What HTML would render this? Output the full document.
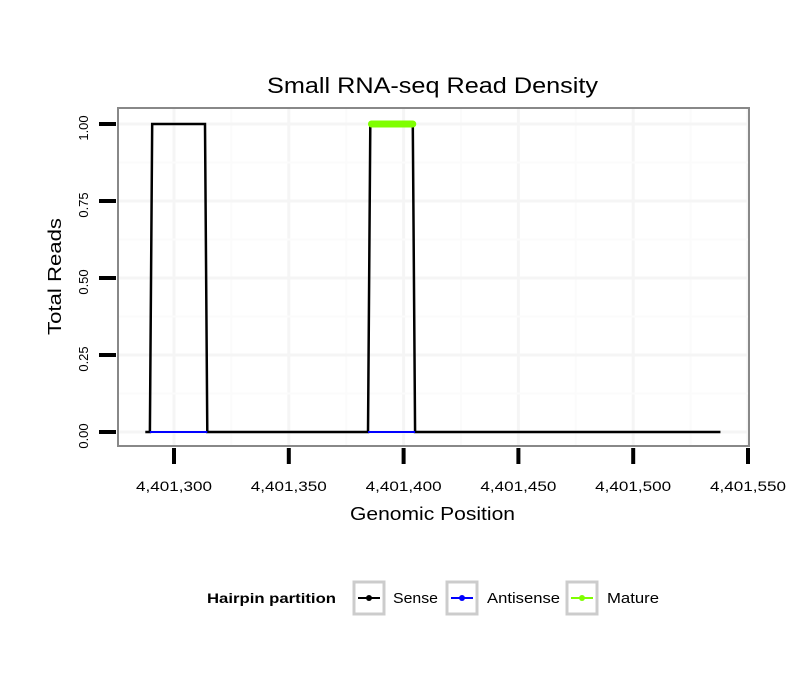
<!DOCTYPE html>
<html><head><meta charset="utf-8"><style>
body{margin:0;background:#fff;font-family:"Liberation Sans",sans-serif}
</style></head><body>
<svg id="chart" width="810" height="690" xmlns="http://www.w3.org/2000/svg" font-family="Liberation Sans, sans-serif">
<rect width="810" height="690" fill="#fff"/>
<text x="267" y="93" font-size="22" textLength="331" lengthAdjust="spacingAndGlyphs">Small RNA-seq Read Density</text>
<g id="grid"></g>
<g id="series"></g>
<rect x="118" y="108" width="631" height="338" fill="none" stroke="#888" stroke-width="2"/>
<g id="axes"></g>
<text x="350" y="520" font-size="18" textLength="165" lengthAdjust="spacingAndGlyphs">Genomic Position</text>
<text transform="translate(61,335) rotate(-90)" font-size="18" textLength="117" lengthAdjust="spacingAndGlyphs">Total Reads</text>
<g>
<text x="207" y="603" font-size="14" font-weight="bold" textLength="129" lengthAdjust="spacingAndGlyphs">Hairpin partition</text>
<g>
<rect x="354" y="582" width="30" height="32" fill="#fff" stroke="#ccc" stroke-width="3"/>
<line x1="358" y1="598" x2="380" y2="598" stroke="#000" stroke-width="2"/><circle cx="369" cy="598" r="3" fill="#000"/>
<text x="393" y="603" font-size="15" textLength="45" lengthAdjust="spacingAndGlyphs">Sense</text></g>
<g>
<rect x="447" y="582" width="30" height="32" fill="#fff" stroke="#ccc" stroke-width="3"/>
<line x1="451" y1="598" x2="473" y2="598" stroke="#00f" stroke-width="2"/><circle cx="462" cy="598" r="3" fill="#00f"/>
<text x="487" y="603" font-size="15" textLength="73" lengthAdjust="spacingAndGlyphs">Antisense</text></g>
<g>
<rect x="567" y="582" width="30" height="32" fill="#fff" stroke="#ccc" stroke-width="3"/>
<line x1="571" y1="598" x2="593" y2="598" stroke="#7fff00" stroke-width="2"/><circle cx="582" cy="598" r="3" fill="#7fff00"/>
<text x="607" y="603" font-size="15" textLength="52" lengthAdjust="spacingAndGlyphs">Mature</text></g>
</g>
</svg>
<script>
const xTicks=[4401300,4401350,4401400,4401450,4401500,4401550];
const xTickLabels=["4,401,300","4,401,350","4,401,400","4,401,450","4,401,500","4,401,550"];
const yTicks=[0,0.25,0.5,0.75,1];
const yTickLabels=["0.00","0.25","0.50","0.75","1.00"];
const senseX=[4401287.5,4401289.5,4401290.5,4401313.5,4401314.5,4401384.5,4401385.5,4401404,4401405,4401538];
const senseY=[0,0,1,1,0,0,1,1,0,0];
const antisenseSegs=[[4401289.5,4401314.5],[4401384.5,4401405]];
const matureX=[4401386,4401404];
const matureY=[1,1];
const NS="http://www.w3.org/2000/svg";
const xs=v=>174+(v-4401300)*(574/250);
const ys=v=>432-v*308;
function mk(tag,attrs,parent){const e=document.createElementNS(NS,tag);for(const k in attrs)e.setAttribute(k,attrs[k]);parent.appendChild(e);return e;}
const grid=document.getElementById('grid'),axes=document.getElementById('axes'),ser=document.getElementById('series');
for(let i=0;i<xTicks.length;i++){
  const gx=mk('line',{x1:xs(xTicks[i]),x2:xs(xTicks[i]),y1:109,y2:445,stroke:'#f5f5f5','stroke-width':3},grid);
  
  
  const mx=xs(xTicks[i]-25);
  if(mx>118){const m=mk('line',{x1:mx,x2:mx,y1:109,y2:445,stroke:'#fbfbfb','stroke-width':2},grid);
  
  }
  const t=mk('line',{x1:xs(xTicks[i]),x2:xs(xTicks[i]),y1:448,y2:464,stroke:'#000','stroke-width':4},axes);
  
  
  const l=mk('text',{x:xs(xTicks[i]),y:491,'font-size':14,'text-anchor':'middle',textLength:76,lengthAdjust:'spacingAndGlyphs'},axes);l.textContent=xTickLabels[i];
  
  
}
for(let i=0;i<yTicks.length;i++){
  const y=ys(yTicks[i]);
  const g=mk('line',{x1:119,x2:748,y1:y,y2:y,stroke:'#f5f5f5','stroke-width':3},grid);
  
  
  if(i>0){const my=ys(yTicks[i]-0.125);const m=mk('line',{x1:119,x2:748,y1:my,y2:my,stroke:'#fbfbfb','stroke-width':2},grid);
  
  }
  const t=mk('line',{x1:99,x2:116,y1:y,y2:y,stroke:'#000','stroke-width':4},axes);
  
  
  const l=mk('text',{transform:`translate(88,${y+4}) rotate(-90)`,'font-size':13,'text-anchor':'middle'},axes);l.textContent=yTickLabels[i];
  
  
}
const sp=mk('polyline',{points:senseX.map((v,i)=>xs(v)+','+ys(senseY[i])).join(' '),fill:'none',stroke:'#000','stroke-width':2.5},ser);


antisenseSegs.forEach(s=>{const a=mk('line',{x1:xs(s[0]),x2:xs(s[1]),y1:ys(0),y2:ys(0),stroke:'#00f','stroke-width':2},ser);

});
const mp=mk('polyline',{points:matureX.map((v,i)=>xs(v)+','+ys(matureY[i])).join(' '),fill:'none',stroke:'#7fff00','stroke-width':7,'stroke-linecap':'round'},ser);


</script>
</body></html>
